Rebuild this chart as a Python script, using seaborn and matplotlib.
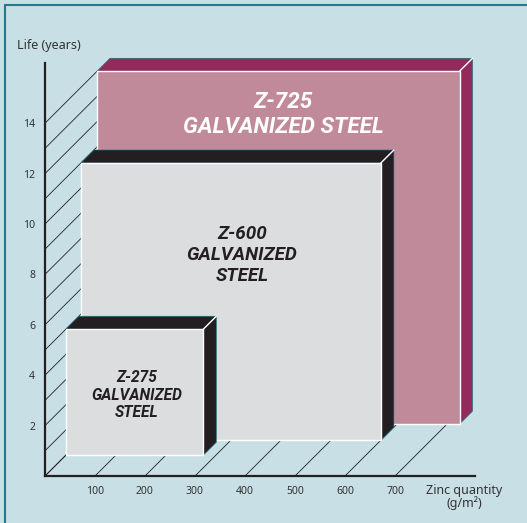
import numpy as np
import matplotlib.pyplot as plt
import seaborn as sns
from matplotlib.patches import Polygon

# chart values
products = ["Z-275", "Z-600", "Z-725"]
zinc = [275, 600, 725]          # g/m2 -> box width
life = [5, 11, 14]              # years -> box height
depth = [0.40, 0.69, 1.0]       # position of the front face in the depth direction (0 = axis, 1 = back wall)
labels = ["Z-275\nGALVANIZED\nSTEEL", "Z-600\nGALVANIZED\nSTEEL", "Z-725\nGALVANIZED STEEL"]

y_major = [2, 4, 6, 8, 10, 12, 14]
y_minor = [1, 3, 5, 7, 9, 11, 13]
x_ticks = [100, 200, 300, 400, 500, 600, 700]

# styling
bg = "#c8dfe5"
front_cols = ["#dcdddf", "#dcdddf", "#c18a9a"]
side_cols = ["#231f20", "#231f20", "#932a5c"]
text_cols = ["#231f20", "#231f20", "white"]
text_sizes = [11.2, 13.6, 16.2]
label_dx = [5, 22, 10]          # label offset from face centre (g/m2)
label_dy = [-0.12, 1.85, None]  # years above centre; None = near top
ink = "#231f20"

DX, DY = 104, 2.06              # oblique offset of the full depth
THICK = 0.25                    # box thickness in depth units

sns.set_style("white")
plt.rcParams["font.family"] = ["Noto Sans", "DejaVu Sans"]

fig = plt.figure(figsize=(5.27, 5.23), dpi=100, facecolor=bg)
ax = fig.add_axes([0, 0, 1, 1])
ax.set_facecolor(bg)
ax.set_xlim(-90, 964)
ax.set_ylim(-1.865, 18.889)

# receding grid lines from the axes
for v in [0] + y_major + y_minor:
    ax.plot([0, DX], [v, v + DY], color=ink, lw=0.6, zorder=1)
for v in [0] + x_ticks:
    ax.plot([v, v + DX], [0, DY], color=ink, lw=0.6, zorder=1)

# boxes, back to front
for i in sorted(range(len(products)), key=lambda k: -depth[k]):
    x0, y0 = depth[i] * DX, depth[i] * DY
    x1, y1 = x0 + zinc[i], y0 + life[i]
    tx, ty = THICK * DX, THICK * DY
    z = 3 + (1 - depth[i]) * 10
    top = Polygon([(x0, y1), (x1, y1), (x1 + tx, y1 + ty), (x0 + tx, y1 + ty)],
                  closed=True, fc=side_cols[i], ec="#1f6f80", lw=0.5, zorder=z)
    side = Polygon([(x1, y0), (x1, y1), (x1 + tx, y1 + ty), (x1 + tx, y0 + ty)],
                   closed=True, fc=side_cols[i], ec="#1f6f80", lw=0.5, zorder=z)
    ax.add_patch(top)
    ax.add_patch(side)
    ax.plot([x1, x1 + tx], [y1, y1 + ty], color="white", lw=1, zorder=z + 0.1)
    ax.bar(x0, life[i], width=zinc[i], bottom=y0, align="edge",
           color=front_cols[i], edgecolor="white", linewidth=1, zorder=z + 0.2)
    cx = x0 + zinc[i] / 2 + label_dx[i]
    cy = y1 - 1.72 if label_dy[i] is None else y0 + life[i] / 2 + label_dy[i]
    ax.text(cx, cy, labels[i], ha="center", va="center", color=text_cols[i],
            fontsize=text_sizes[i], fontweight="bold", fontstyle="italic",
            family=["Roboto"], linespacing=1.2, zorder=z + 0.3)

# axes drawn through the origin
for s in ["top", "right"]:
    ax.spines[s].set_visible(False)
ax.spines["left"].set_position(("data", 0))
ax.spines["bottom"].set_position(("data", 0))
ax.spines["left"].set_bounds(0, 16.4)
ax.spines["bottom"].set_bounds(0, 860)
for s in ["left", "bottom"]:
    ax.spines[s].set_color(ink)
    ax.spines[s].set_linewidth(1.6)
    ax.spines[s].set_zorder(20)

ax.set_yticks(y_major)
ax.set_yticks(y_minor, minor=True)
ax.set_xticks(x_ticks)
ax.tick_params(axis="y", which="both", direction="out", length=4, width=1.5,
               color=ink, labelsize=7.5, labelcolor="#333333", pad=3)
ax.tick_params(axis="x", direction="out", length=3, width=1.5,
               color=ink, labelsize=7.5, labelcolor="#333333", pad=4)
ax.grid(False)

fig.text(17 / 527, 1 - 46 / 523, "Life (years)", fontsize=9, color="#333333",
         ha="left", va="center")
fig.text(464 / 527, 1 - 497 / 523, "Zinc quantity\n(g/m²)", fontsize=9,
         color="#333333", ha="center", va="center", linespacing=0.95)

# teal frame on the left and top edges
fig.add_artist(plt.Line2D([5 / 527, 5 / 527], [0, 1 - 5 / 523], transform=fig.transFigure,
                          color="#1f7d8c", lw=1.5))
fig.add_artist(plt.Line2D([5 / 527, 1], [1 - 5 / 523, 1 - 5 / 523], transform=fig.transFigure,
                          color="#1f7d8c", lw=1.5))

fig.savefig("out.png", dpi=100, facecolor=bg)
